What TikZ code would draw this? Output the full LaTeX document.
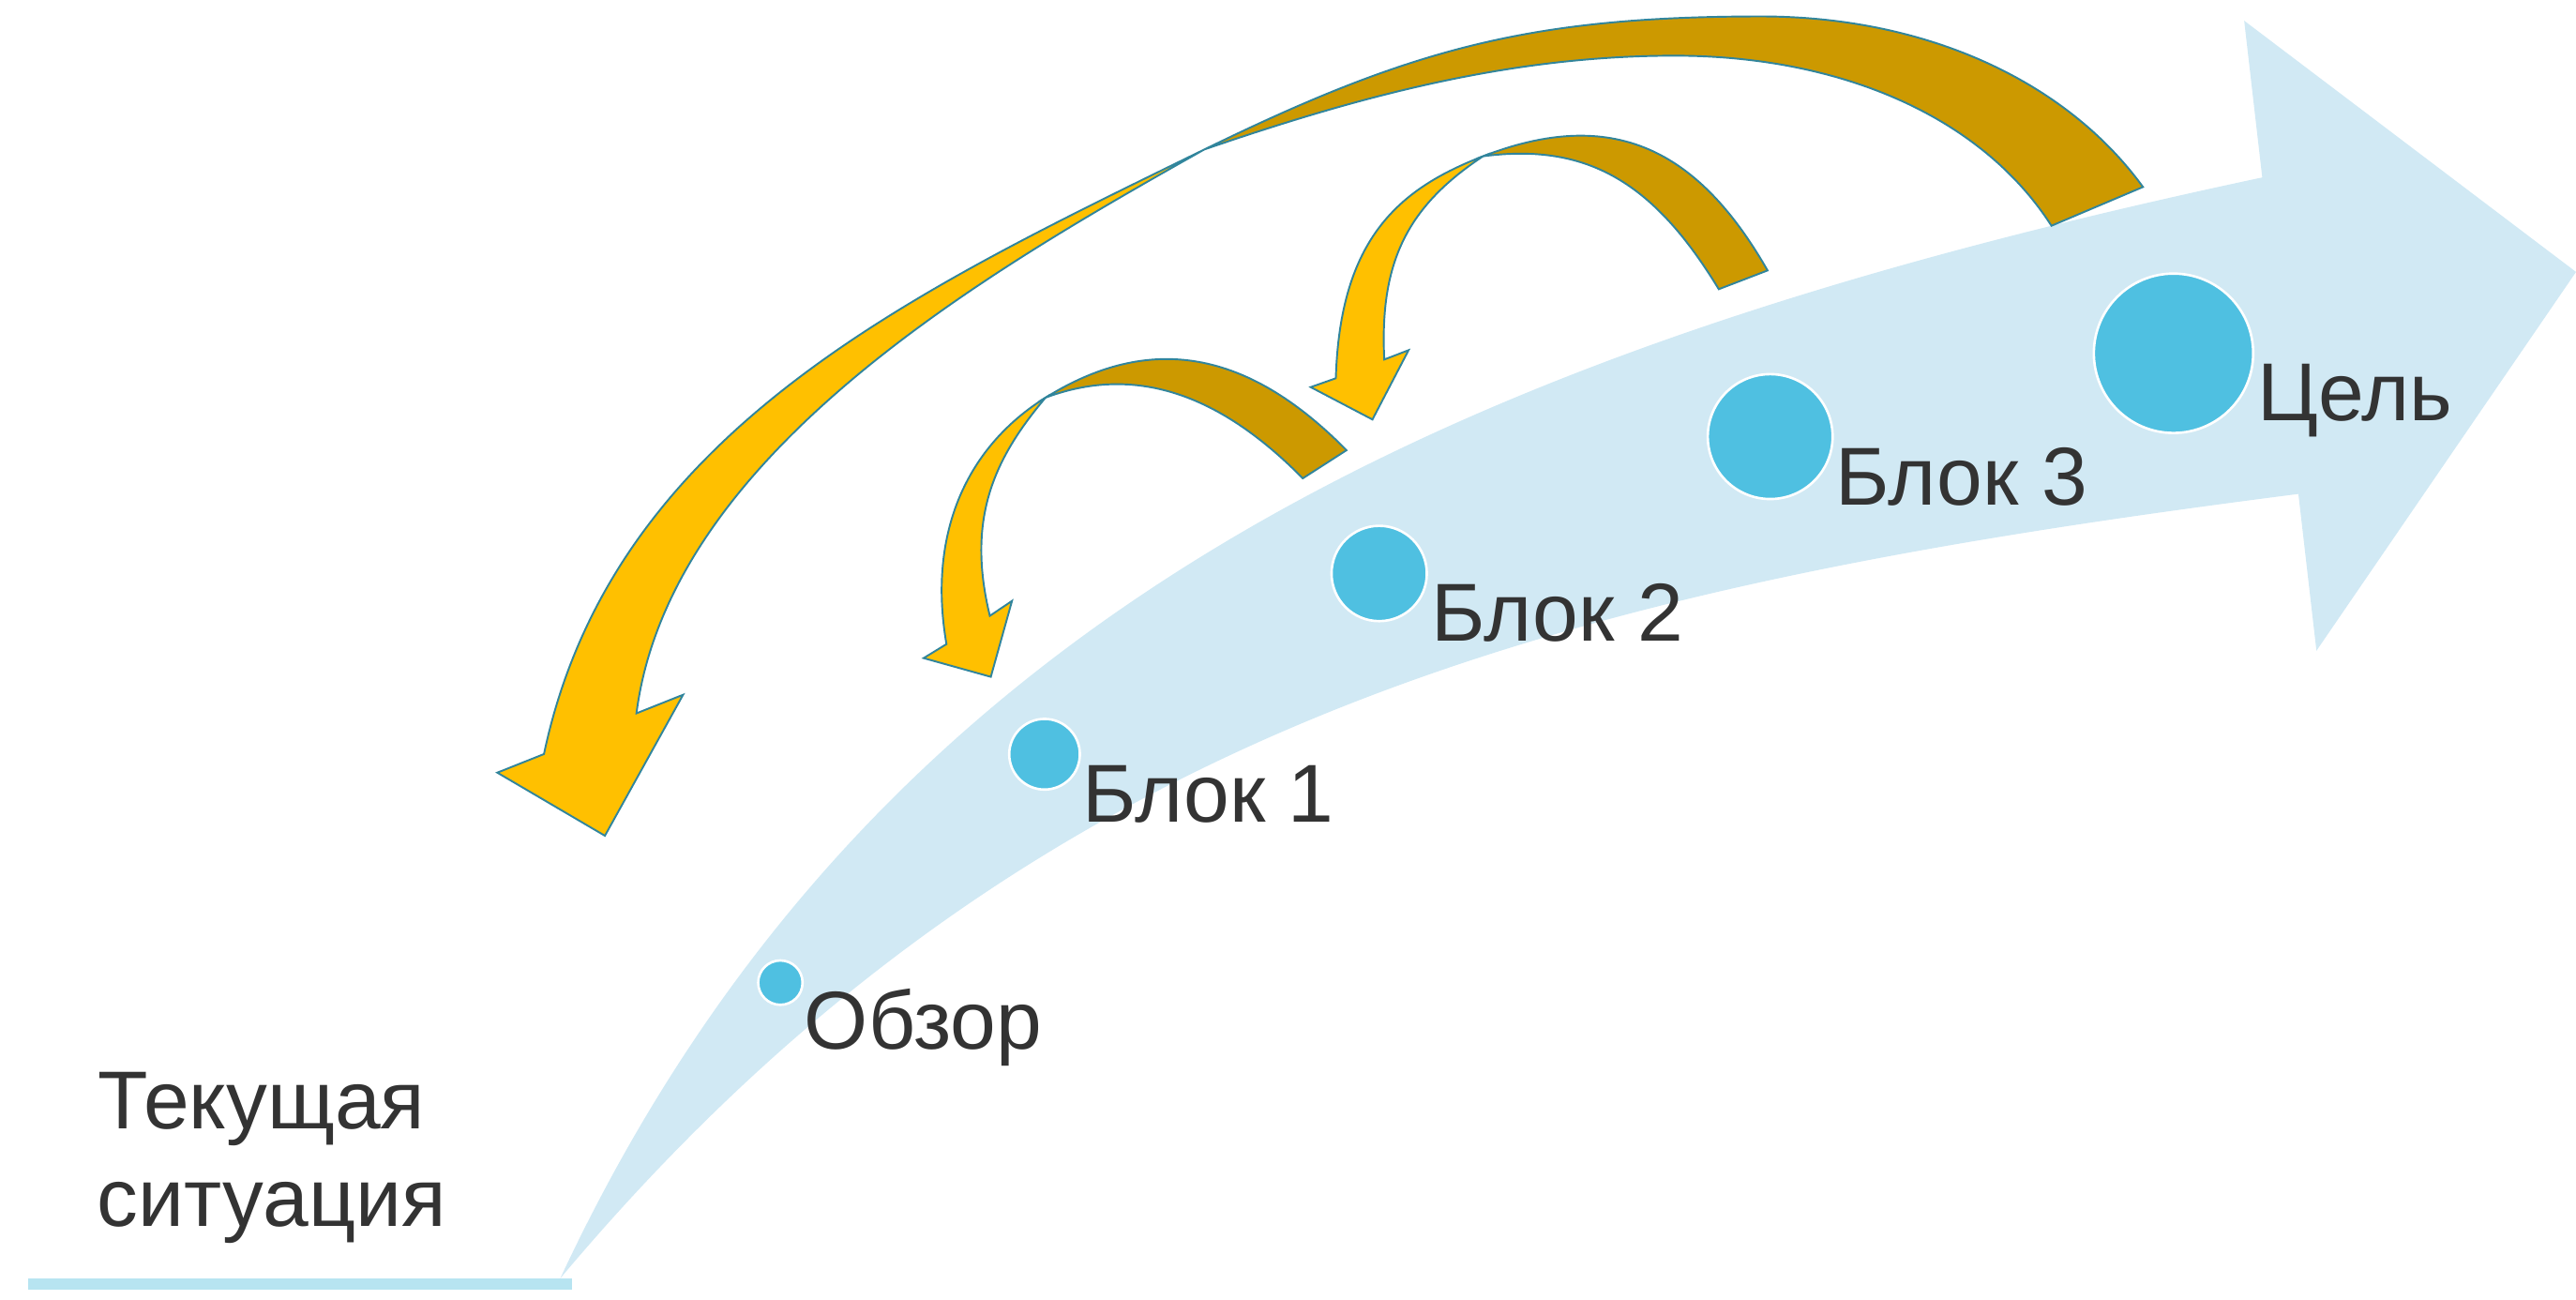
\documentclass[tikz,border=0pt]{standalone}
\usepackage{fontspec}
\setmainfont{Liberation Sans}
\definecolor{bandblue}{RGB}{209,233,244}
\definecolor{barblue}{RGB}{183,228,241}
\definecolor{dotblue}{RGB}{79,192,225}
\definecolor{golddark}{RGB}{204,153,0}
\definecolor{goldlight}{RGB}{255,192,0}
\definecolor{edgeteal}{RGB}{49,133,156}
\definecolor{txtgray}{RGB}{51,51,51}
\tikzset{
  milestone/.style={circle, fill=dotblue, draw=white, line width=1.5pt, inner sep=0pt},
  lbl/.style={anchor=base west, inner sep=0pt, text=txtgray, font=\fontsize{50}{60}\selectfont},
  darkpart/.style={fill=golddark, draw=edgeteal, line width=1.1pt, line join=miter},
  lightpart/.style={fill=goldlight, draw=edgeteal, line width=1.1pt, line join=miter},
}
\begin{document}
\begin{tikzpicture}[x=1pt,y=-1pt]
\useasboundingbox (0,0) rectangle (1568,791);
% big light-blue arrow
\fill[bandblue] (341,778) .. controls (531.4,370.3) and (888,212) .. (1377,108)
  -- (1366,12.6) -- (1568,165.5) -- (1410,396) -- (1399,300.6)
  .. controls (962.5,356.5) and (630.4,433.3) .. (341,778) -- cycle;
% base line
\fill[barblue] (17.3,777.8) rectangle (348,784.8);

% gold arrow A (Блок 1)
\path[darkpart] (636.4,242) .. controls (704.4,199.6) and (763.6,217.2) .. (819.6,274)
  -- (793,291.1) .. controls (744,241.4) and (692.6,221) .. (636.4,242) -- cycle;
\path[lightpart] (636.4,242) .. controls (589.6,271.2) and (564.2,323) .. (576.1,392)
  -- (562.2,400.5) -- (603.1,411.9) -- (616,365.7) -- (602.5,374.8)
  .. controls (588.4,316.6) and (604.15,280.2) .. (636.4,242) -- cycle;

% gold arrow B (Блок 2)
\path[darkpart] (902.7,95.1) .. controls (981.8,64.5) and (1033.6,90.8) .. (1075.9,164.6)
  -- (1046.2,176) .. controls (1007.2,111.9) and (967,86.6) .. (902.7,95.1) -- cycle;
\path[lightpart] (902.7,95.1) .. controls (851.5,114.9) and (815.7,145.2) .. (813.1,230.2)
  -- (797.8,235.6) -- (835.4,255.3) -- (857.4,213.1) -- (842.6,218.8)
  .. controls (839.6,158.8) and (857.1,125.35) .. (902.7,95.1) -- cycle;

% gold arrow C (big)
\path[darkpart] (733,91) .. controls (859,29.4) and (932,10) .. (1072,10)
  .. controls (1172,10) and (1257.4,49.1) .. (1304.4,113.8)
  -- (1248.7,137.4) .. controls (1205.5,70.2) and (1119.3,33.9) .. (1019.3,33.9)
  .. controls (919.3,33.9) and (827.6,58.5) .. (733,91) -- cycle;
\path[lightpart] (733,91) .. controls (553,179) and (372.5,263.3) .. (331.1,458.9)
  -- (302.7,470.2) -- (368.2,508.6) -- (415.8,422.8) -- (387.4,434.1)
  .. controls (407.9,275.7) and (602.5,164.5) .. (733,91) -- cycle;

% milestones
\node[milestone, minimum size=27pt] (obzor) at (475,598) {};
\node[milestone, minimum size=43pt] (blok1) at (635.8,459) {};
\node[milestone, minimum size=58pt] (blok2) at (839.5,349) {};
\node[milestone, minimum size=76pt] (blok3) at (1077.5,265.7) {};
\node[milestone, minimum size=97pt] (goal) at (1323,215) {};

% labels
\node[lbl] (tobzor) at (489.5,638.5) {Обзор};
\node[lbl] (tblok1) at (658.5,500.2) {Блок 1};
\node[lbl] (tblok2) at (871,390) {Блок 2};
\node[lbl] (tblok3) at (1117,307.5) {Блок 3};
\node[lbl] (tgoal) at (1374,256) {Цель};
\node[lbl] (tcur1) at (59.5,686.8) {Текущая};
\node[lbl] (tcur2) at (59,746.6) {ситуация};
\end{tikzpicture}
\end{document}
